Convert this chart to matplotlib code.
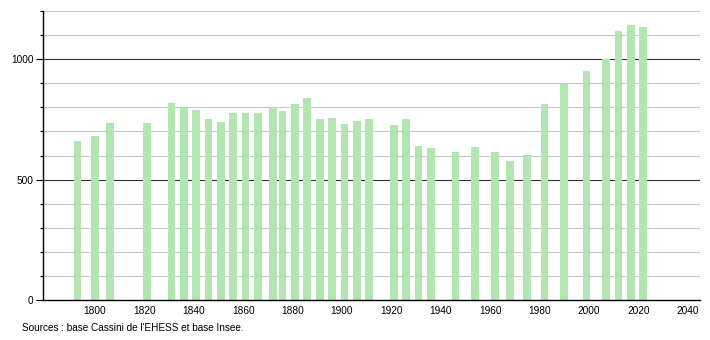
import matplotlib
matplotlib.use('Agg')
from matplotlib import pyplot as plt
from matplotlib.ticker import MultipleLocator

# census years and population
years = [1793, 1800, 1806, 1821, 1831, 1836, 1841, 1846, 1851, 1856, 1861, 1866,
         1872, 1876, 1881, 1886, 1891, 1896, 1901, 1906, 1911, 1921, 1926, 1931,
         1936, 1946, 1954, 1962, 1968, 1975, 1982, 1990, 1999, 2007, 2012, 2017, 2022]
population = [661, 683, 735, 735, 818, 800, 788, 753, 740, 776, 778, 778,
              800, 783, 815, 840, 753, 757, 730, 744, 753, 728, 753, 640,
              633, 615, 636, 615, 578, 601, 815, 899, 949, 1001, 1118, 1140, 1134]
x_ticks = list(range(1800, 2041, 20))
y_ticks = [0, 500, 1000]
source = "Sources : base Cassini de l'EHESS et base Insee."

plt.rcParams['font.family'] = ['Liberation Sans', 'DejaVu Sans']

fig = plt.figure(figsize=(7.1, 3.4), dpi=100)
ax = fig.add_axes([0.0606, 0.1176, 0.9254, 0.85])

# grid: light every 100, dark at 500 / 1000
for v in range(100, 1201, 100):
    if v % 500 == 0:
        ax.axhline(v, color='#333333', lw=0.8, zorder=1)
    else:
        ax.axhline(v, color='#c8c8c8', lw=0.8, zorder=1)

ax.bar(years, population, width=3.1, color='#b2e5b2', zorder=2)

ax.set_xlim(1779, 2045)
ax.set_ylim(0, 1200)
ax.set_xticks(x_ticks)
ax.set_yticks(y_ticks)
ax.yaxis.set_minor_locator(MultipleLocator(100))
ax.tick_params(axis='x', length=0, labelsize=7.3, pad=4)
ax.tick_params(axis='y', which='major', length=5, width=0.8, labelsize=7.3, pad=2)
ax.tick_params(axis='y', which='minor', length=2.5, width=0.8)

for s in ['top', 'right']:
    ax.spines[s].set_visible(False)
ax.spines['left'].set_linewidth(1)
ax.spines['bottom'].set_linewidth(1)

fig.text(22 / 710, 1 - 328 / 340, source, fontsize=7.2, va='center', ha='left')

fig.savefig('out.png', dpi=100)
